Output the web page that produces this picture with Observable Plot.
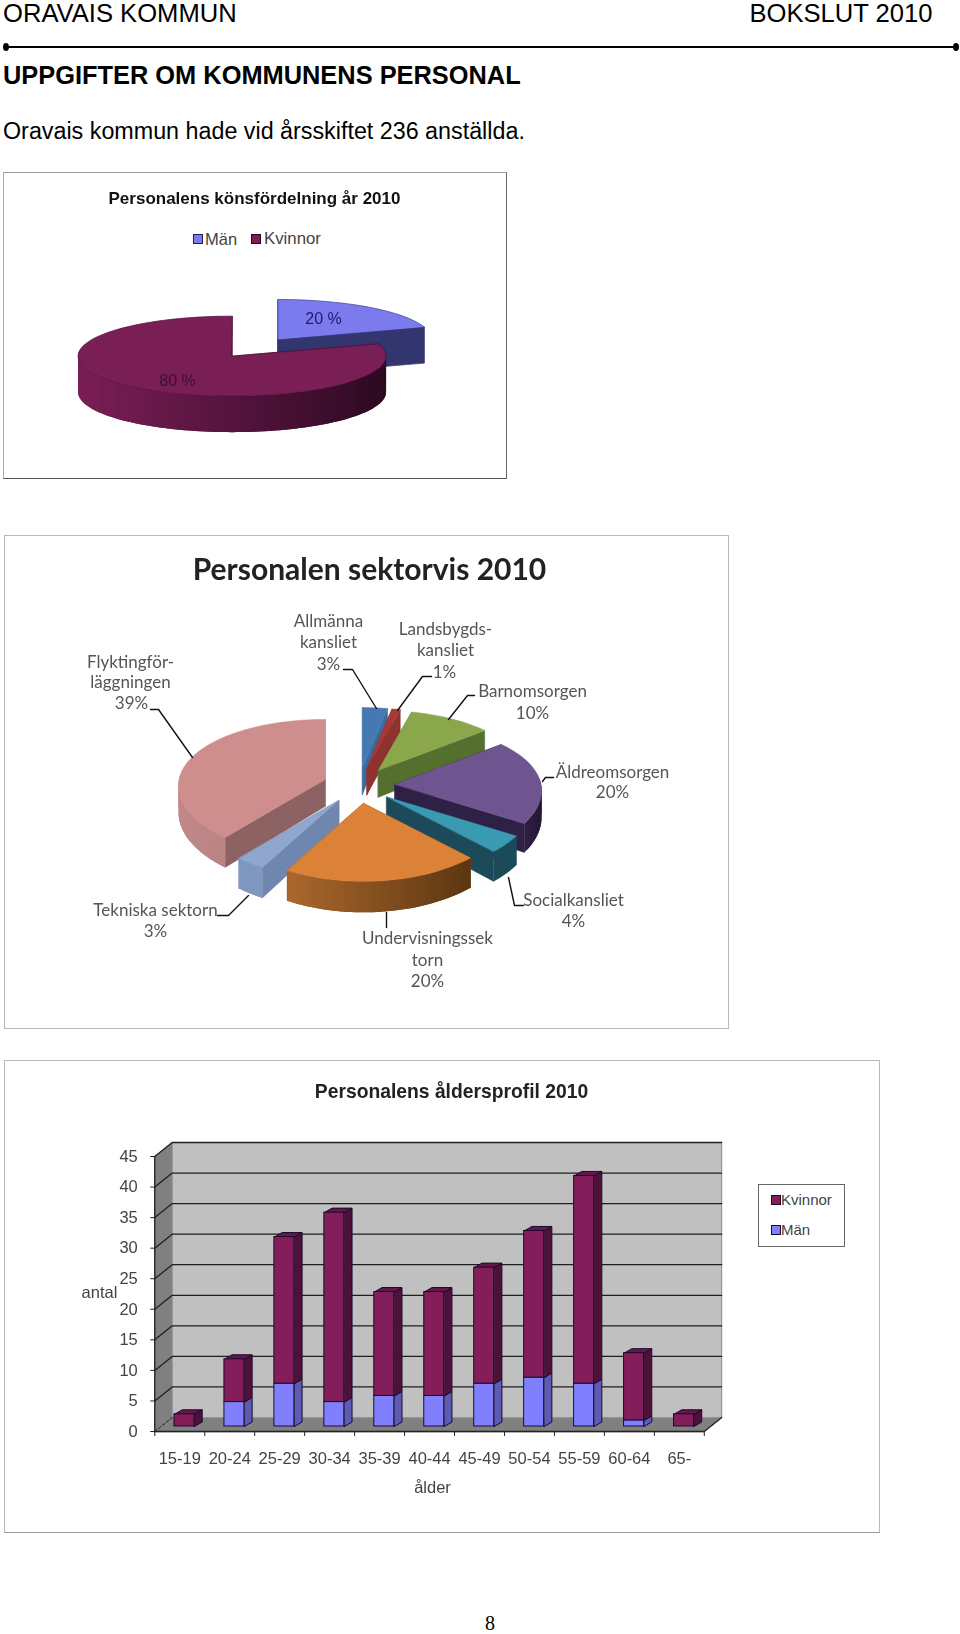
<!DOCTYPE html>
<html lang="sv"><head><meta charset="utf-8">
<script src="https://cdn.jsdelivr.net/npm/d3@7"></script>
<script src="https://cdn.jsdelivr.net/npm/@observablehq/plot@0.6"></script>
<style>
html,body{margin:0;padding:0;background:#fff}
#page{position:relative;width:960px;height:1634px;overflow:hidden;font-family:"Liberation Sans",Arial,sans-serif;color:#000}
.t{position:absolute;white-space:nowrap;line-height:1}
.box{position:absolute;box-sizing:border-box}
.chart{position:absolute}
.chart svg{display:block;overflow:visible;filter:blur(.35px)}
</style></head><body><div id="page"></div>
<script>
// ---------- data ----------
const genderNames = ["Män","Kvinnor"];
const genderShares = [20,80];
const sectorNames = ["Allmänna kansliet","Landsbygdskansliet","Barnomsorgen","Äldreomsorgen","Socialkansliet","Undervisningssektorn","Tekniska sektorn","Flyktingförläggningen"];
const sectorShares = [3,1,10,20,4,20,3,39];
const ageGroups = ["15-19","20-24","25-29","30-34","35-39","40-44","45-49","50-54","55-59","60-64","65-"];
const womenByAge = [2,7,24,31,17,17,19,24,34,11,2];
const menByAge = [0,4,7,4,5,5,7,8,7,1,0];
const ageTicks = [0,5,10,15,20,25,30,35,40,45];

// ---------- styles & layout ----------
const genderStyle = [
  {top:"#7B7BEE",edge:"#3a3f90",radial:"#32356E",rimL:"#32356E",rimR:"#32356E"},
  {top:"#7A1E56",edge:"#4b1036",radial:"#5a1540",rimL:"#7A1E56",rimR:"#2C0921"}];
const sectorStyle = [
  {top:"#4679B1",radial:"#3B6A9E",rimL:"#3B6A9E",rimR:"#3B6A9E"},
  {top:"#A43A38",radial:"#8E3230",rimL:"#8E3230",rimR:"#8E3230"},
  {top:"#8AA74C",radial:"#55702E",rimL:"#6C8A38",rimR:"#6C8A38"},
  {top:"#6F5590",radial:"#2F2045",rimL:"#3A2A55",rimR:"#241835"},
  {top:"#3A9AB2",radial:"#1C4A58",rimL:"#1C4A58",rimR:"#1C4A58"},
  {top:"#DC8238",radial:"#8C5520",rimL:"#A9662C",rimR:"#5A3510"},
  {top:"#8FA6CF",radial:"#6F86AE",rimL:"#7F96BE",rimR:"#8098C0"},
  {top:"#CE8E8E",radial:"#8C6262",rimL:"#C08888",rimR:"#AE7777"}];
const sectorOrder = [0,1,2,7,3,6,4,5];
const sectorText = [
  ["Allmänna",328,621],["kansliet",328,642],["3%",328,664],
  ["Landsbygds-",445,629],["kansliet",445,650],["1%",444,672],
  ["Barnomsorgen",532,691],["10%",532,713],
  ["Äldreomsorgen",612,772],["20%",612,792],
  ["Socialkansliet",573,900],["4%",573,921],
  ["Undervisningssek",427,938],["torn",427,960],["20%",427,981],
  ["Tekniska sektorn",155,910],["3%",155,931],
  ["Flyktingför-",130,662],["läggningen",130,682],["39%",131,703]];
const sectorLeaders = [
  [[343,669],[352,669],[376,708]],
  [[431,676],[422,676],[397,710]],
  [[474,695],[467,695],[448,719]],
  [[553,777],[545,777],[542,781]],
  [[523,905],[514,905],[508,877]],
  [[386,912],[386,927]],
  [[248,895],[228,915],[217,915]],
  [[150,709],[158,709],[192,757]]];

// ---------- helpers ----------
const page = document.getElementById("page");
function text(s,x,y,css){const d=document.createElement("div");d.className="t";d.textContent=s;d.style.cssText=`left:${x}px;top:${y}px;${css||""}`;page.append(d);return d;}
function box(x,y,w,h,css){const d=document.createElement("div");d.className="box";d.style.cssText=`left:${x}px;top:${y}px;width:${w}px;height:${h}px;${css||""}`;page.append(d);return d;}
function place(svg,x,y){const d=document.createElement("div");d.className="chart";d.style.left=x+"px";d.style.top=y+"px";d.append(svg);page.append(d);}

// page-coordinate Plot for the pies
function pagePlot(x0,y0,w,h,marks){
  place(Plot.plot({width:w,height:h,margin:0,
    x:{domain:[x0,x0+w],range:[0,w],axis:null},
    y:{domain:[y0,y0+h],range:[0,h],axis:null},
    color:{type:"identity"},
    style:{background:"transparent"},marks}),x0,y0);
}
// 3-D exploded pie turned into polygon rows, angles come from the shares
function pieRows(shares,styles,order,g){
  const total=d3.sum(shares),cum=d3.cumsum(shares);
  const rows=[];let id=0;
  const rim=th=>{const t=-Math.cos(th);return {
    x:g.rx*Math.sin(th)/(1-g.bx*t),
    y:g.ry*t/(1-g.b*t),
    d:g.depth/(1-g.b*t),t};};
  const poly=(pts,fill,stroke)=>{id++;pts.forEach(p=>rows.push({id,x:p[0],y:p[1],fill,stroke:stroke||fill}));};
  for(const i of order){
    const a0=(i?cum[i-1]:0)/total*2*Math.PI,a1=cum[i]/total*2*Math.PI,mid=(a0+a1)/2;
    const ax=g.cx+g.ex*Math.sin(mid),ay=g.cy-g.ey*Math.cos(mid);
    const s=styles[i];
    const n=Math.max(2,Math.ceil((a1-a0)/(Math.PI/90)));
    const ths=d3.range(n+1).map(k=>a0+(a1-a0)*k/n);
    const P=ths.map(rim);
    const xs=P.map(p=>p.x),xmin=d3.min(xs),xmax=d3.max(xs);
    const mix=d3.interpolateRgb(s.rimL,s.rimR);
    for(const p of [P[0],P[n]])
      poly([[ax,ay],[ax+p.x,ay+p.y],[ax+p.x,ay+p.y+p.d],[ax,ay+g.depth]],s.radial);
    for(let k=0;k<n;k++){
      const p=P[Math.max(0,k-1)],q=P[k+1];   // each strip overlaps its neighbour so no seam shows
      if(Math.max(p.t,q.t)<-0.05) continue;
      const c=d3.color(mix(((P[k].x+q.x)/2-xmin)/((xmax-xmin)||1))).formatHex();
      poly([[ax+p.x,ay+p.y],[ax+P[k].x,ay+P[k].y],[ax+q.x,ay+q.y],[ax+q.x,ay+q.y+q.d],[ax+P[k].x,ay+P[k].y+P[k].d],[ax+p.x,ay+p.y+p.d]],c,"none");
    }
    poly([[ax,ay],...P.map(p=>[ax+p.x,ay+p.y])],s.top,s.edge||s.top);
  }
  return rows;
}
const polys=(rows,w)=>Plot.line(rows,{x:"x",y:"y",z:"id",fill:"fill",stroke:"stroke",strokeWidth:w||.7,curve:"linear-closed"});

// ---------- page header ----------
text("ORAVAIS KOMMUN",3,1,"font-size:25.6px");
text("BOKSLUT 2010",749.5,1,"font-size:25.6px");
box(6,46,949,2,"background:#000");
box(3,43,6,8,"background:#000;border-radius:50%");
box(953,43,6,8,"background:#000;border-radius:50%");
text("UPPGIFTER OM KOMMUNENS PERSONAL",3,63,"font-size:25.4px;font-weight:bold");
text("Oravais kommun hade vid årsskiftet 236 anställda.",3,120,"font-size:23.3px");
text("8",485,1613,"font-family:'Liberation Serif',serif;font-size:20px;line-height:20px");

// ---------- chart 1 ----------
box(3,172,504,307,"border:1px solid;border-color:#999 #666 #555 #aaa");
pagePlot(3,172,504,307,[
  polys(pieRows(genderShares,genderStyle,[0,1],{cx:254.5,cy:347.3,ex:39,ey:10.3,rx:154,ry:40,b:0,bx:0,depth:36})),
  Plot.text([{s:"Personalens könsfördelning år 2010",x:254,y:198}],{x:"x",y:"y",text:"s",fontSize:17,fontWeight:"bold",fontFamily:"Liberation Sans",fill:"#111"}),
  Plot.text([{s:"20 %",x:323,y:318}],{x:"x",y:"y",text:"s",fontSize:16,fontFamily:"Liberation Sans",fill:"#1c1c70"}),
  Plot.text([{s:"80 %",x:177,y:380}],{x:"x",y:"y",text:"s",fontSize:16,fontFamily:"Liberation Sans",fill:"#3a1030"})
]);
box(193,234,10,10,"background:#7B7BEE;border:1.5px solid #1c2050");
text(genderNames[0],205,231,"font-size:16.5px;color:#444");
box(251,234,10,10,"background:#7A1E56;border:1.5px solid #2a0820");
text(genderNames[1],264,231,"font-size:16.8px;color:#444");

// ---------- chart 2 ----------
box(4,535,725,494,"border:1.5px solid #b8b8b8");
const leaderRows=sectorLeaders.flatMap((l,i)=>l.map(p=>({id:i,x:p[0],y:p[1]})));
pagePlot(5,536,723,492,[
  polys(pieRows(sectorShares,sectorStyle,sectorOrder,{cx:358.5,cy:785,ex:36,ey:18,rx:146,ry:67.8,b:.13,bx:.09,depth:27}),.5),
  Plot.line(leaderRows,{x:"x",y:"y",z:"id",stroke:"#111",strokeWidth:1.4,curve:"linear"}),
  Plot.text(sectorText,{x:d=>d[1],y:d=>d[2],text:d=>d[0],fontSize:17,fontFamily:"Lato",fill:"#555"}),
  Plot.text([{s:"Personalen sektorvis 2010",x:369,y:570}],{x:"x",y:"y",text:"s",fontSize:30,fontWeight:"bold",fontFamily:"Lato",fill:"#222"})
]);

// ---------- chart 3 ----------
box(4,1060,876,473,"border:1.5px solid #b8b8b8;border-bottom-color:#999");
const W=876,H=473,X0=4,Y0=1060;
const L=154.3,R=703.8,Y00=1431,Y45=1156;
const ux=(R-L)/ageGroups.length,uy=(Y00-Y45)/45;      // px per data unit
const backX=17.4/ux,backY=14/uy;                       // wall depth in data units
const frontX=4.7/ux,frontY=5/uy,sideX=7.7/ux,sideY=4.5/uy,barW=20/ux;
const n=ageGroups.length;
const rows3=[];let pid=0;
const poly3=(pts,fill,stroke)=>{pid++;pts.forEach(p=>rows3.push({id:pid,x:p[0],y:p[1],fill,stroke:stroke||fill}));};
poly3([[0,0],[backX,backY],[n+backX,backY],[n,0]],"#808080");                    // floor
poly3([[0,0],[backX,backY],[backX,45+backY],[0,45]],"#808080");                  // side wall
poly3([[backX,backY],[backX,45+backY],[n+backX,45+backY],[n+backX,backY]],"#C0C0C0","#8a8a8a"); // back wall
const gridRows=ageTicks.filter(v=>v>0).flatMap(v=>[{id:v,x:0,y:v},{id:v,x:backX,y:v+backY},{id:v,x:n+backX,y:v+backY}]);
const barRows=[];let bid=0;
const bar=(pts,fill)=>{bid++;pts.forEach(p=>barRows.push({id:bid,x:p[0],y:p[1],fill,stroke:"#1a0a30"}));};
const fronts=[];
ageGroups.forEach((g,i)=>{
  const x1=i+.5-barW/2+frontX,x2=x1+barW,m=menByAge[i],t=m+womenByAge[i];
  if(m>0){
    bar([[x2,frontY],[x2+sideX,frontY+sideY],[x2+sideX,frontY+sideY+m],[x2,frontY+m]],"#5C5CB4");
    fronts.push({x1,x2,y1:frontY,y2:frontY+m,fill:"#8080FF"});
  }
  bar([[x2,frontY+m],[x2+sideX,frontY+sideY+m],[x2+sideX,frontY+sideY+t],[x2,frontY+t]],"#4E1137");
  bar([[x1,frontY+t],[x1+sideX,frontY+sideY+t],[x2+sideX,frontY+sideY+t],[x2,frontY+t]],"#64184A");
  fronts.push({x1,x2,y1:frontY+m,y2:frontY+t,fill:"#841E5A"});
});
const labelOpts={frameAnchor:"top-left",lineAnchor:"middle",text:d=>d,textAnchor:"middle",fontFamily:"Liberation Sans"};
place(Plot.plot({
  width:W,height:H,
  marginLeft:L-X0,marginRight:W-(R-X0),marginTop:Y45-Y0,marginBottom:H-(Y00-Y0),
  x:{type:"linear",domain:[0,n],axis:null},
  y:{type:"linear",domain:[0,45],axis:null},
  color:{type:"identity"},
  style:{background:"transparent"},
  marks:[
    polys(rows3,1),
    Plot.line(gridRows,{x:"x",y:"y",z:"id",stroke:"#1f1f1f",strokeWidth:1.3,curve:"linear"}),
    Plot.line([{x:0,y:0},{x:backX,y:backY}],{x:"x",y:"y",stroke:"#222",strokeWidth:1,strokeDasharray:"3,2"}),
    Plot.line([{x:n,y:0},{x:n+backX,y:backY}],{x:"x",y:"y",stroke:"#222",strokeWidth:1.3}),
    Plot.ruleY([0],{stroke:"#222",strokeWidth:1.3}),
    Plot.ruleX([0],{y1:0,y2:45,stroke:"#222",strokeWidth:1.3}),
    polys(barRows,1),
    Plot.rect(fronts,{x1:"x1",x2:"x2",y1:"y1",y2:"y2",fill:"fill",stroke:"#1a0a30",strokeWidth:1}),
    Plot.axisY({ticks:ageTicks,tickSize:4,tickPadding:13,label:null,fontSize:16.5,fontFamily:"Liberation Sans",color:"#444",stroke:"#222"}),
    Plot.axisX({ticks:d3.range(0,n+1),tickSize:5,tickFormat:()=>"",label:null,stroke:"#222"}),
    Plot.axisX({ticks:ageGroups.map((g,i)=>i+.5),tickSize:0,tickPadding:21,tickFormat:v=>ageGroups[Math.floor(v)],label:null,fontSize:16.5,fontFamily:"Liberation Sans",color:"#444"}),
    Plot.text(["antal"],{...labelOpts,dx:99-L,dy:1292-Y45,fontSize:16.5,fill:"#444"}),
    Plot.text(["ålder"],{...labelOpts,dx:432-L,dy:1487-Y45,fontSize:16.5,fill:"#444"}),
    Plot.text(["Personalens åldersprofil 2010"],{...labelOpts,dx:451-L,dy:1091-Y45,fontSize:19.3,fontWeight:"bold",fill:"#222"})
  ]}),X0,Y0);
box(758,1184,87,63,"border:1.3px solid #666");
box(771,1195,10,10,"background:#841E5A;border:1.5px solid #1a0a30");
text("Kvinnor",781,1192,"font-size:15px;color:#444");
box(771,1225,10,10,"background:#8080FF;border:1.5px solid #1a0a30");
text("Män",781,1222,"font-size:15px;color:#444");
</script></body></html>
